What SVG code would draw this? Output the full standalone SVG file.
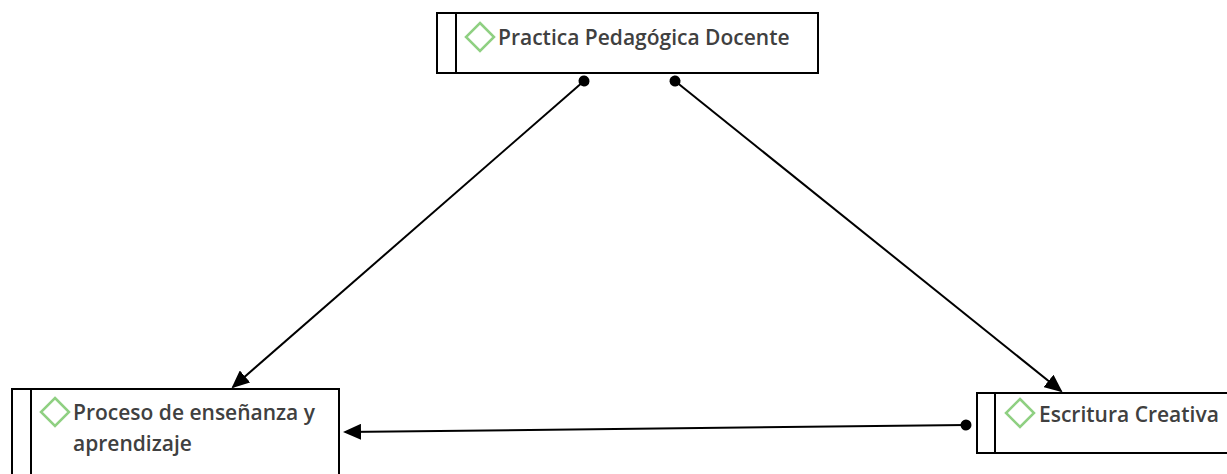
<svg xmlns="http://www.w3.org/2000/svg" width="1227" height="474" viewBox="0 0 1227 474">
<style>
.box{fill:#fff;stroke:#000;stroke-width:2}
.bar{stroke:#000;stroke-width:2}
.dia{fill:none;stroke:#8fd082;stroke-width:2.5}
.lbl{font-family:"Open Sans","Noto Sans",sans-serif;font-weight:600;font-size:21px;fill:#404040}
.con{stroke:#000;stroke-width:2;fill:none}
</style>
<defs>
<marker id="arr" markerUnits="userSpaceOnUse" markerWidth="18" markerHeight="16" viewBox="0 0 18 16" refX="16" refY="8" orient="auto">
<path d="M0,0 L18,8 L0,16 Z" fill="#000"/>
</marker>
<marker id="dot" markerUnits="userSpaceOnUse" markerWidth="12" markerHeight="12" viewBox="0 0 12 12" refX="6" refY="6" orient="auto">
<circle cx="6" cy="6" r="5.5" fill="#000"/>
</marker>
</defs>
<rect width="1227" height="474" fill="#fff"/>
<g id="connectors">
<line class="con" x1="584" y1="81" x2="233" y2="387" marker-start="url(#dot)" marker-end="url(#arr)"/>
<line class="con" x1="675" y1="81" x2="1061" y2="391" marker-start="url(#dot)" marker-end="url(#arr)"/>
<line class="con" x1="966" y1="425" x2="345" y2="432" marker-start="url(#dot)" marker-end="url(#arr)"/>
</g>
<g id="node-practica">
<rect class="box" x="437" y="13" width="381" height="60"/>
<line class="bar" x1="456" y1="13" x2="456" y2="73"/>
<path class="dia" d="M480,23 L494,37 L480,51 L466,37 Z"/>
<text class="lbl" x="498" y="45">Practica Pedagógica Docente</text>
</g>
<g id="node-proceso">
<rect class="box" x="12" y="389" width="327" height="95"/>
<line class="bar" x1="31" y1="389" x2="31" y2="474"/>
<path class="dia" d="M55,398 L69,412 L55,426 L41,412 Z"/>
<text class="lbl" x="73" y="420">Proceso de enseñanza y</text>
<text class="lbl" x="73" y="451">aprendizaje</text>
</g>
<g id="node-escritura">
<rect class="box" x="977" y="393" width="260" height="60"/>
<line class="bar" x1="995" y1="393" x2="995" y2="453"/>
<path class="dia" d="M1020,399 L1034,413 L1020,427 L1006,413 Z"/>
<text class="lbl" x="1039" y="422">Escritura Creativa</text>
</g>
</svg>
